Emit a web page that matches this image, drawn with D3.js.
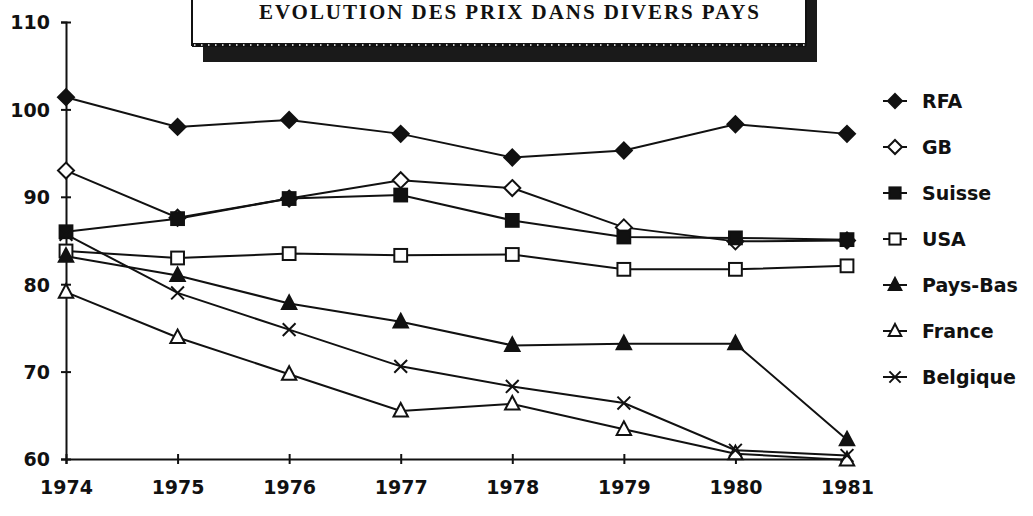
<!DOCTYPE html>
<html>
<head>
<meta charset="utf-8">
<script src="https://cdn.jsdelivr.net/npm/d3@7"></script>
<style>
body { margin: 0; background: #fff; }
svg { display: block; }
.tick-label { font-family: 'DejaVu Sans', sans-serif; font-weight: bold; font-size: 19px; fill: #111; }
.leg-label { font-family: 'DejaVu Sans', sans-serif; font-weight: bold; font-size: 19px; fill: #111; }
.title { font-family: 'Liberation Serif', serif; font-weight: bold; font-size: 21px; fill: #111; }
</style>
</head>
<body>
<div id="chart"></div>
<script>
// valeurs
var years = [1974, 1975, 1976, 1977, 1978, 1979, 1980, 1981];
var yTicks = [60, 70, 80, 90, 100, 110];
var countries = ['RFA', 'GB', 'Suisse', 'USA', 'Pays-Bas', 'France', 'Belgique'];

var rfa      = [101.4, 98.0, 98.8, 97.2, 94.5, 95.3, 98.3, 97.2];
var gb       = [93.0, 87.6, 89.8, 91.9, 91.0, 86.5, 84.9, 85.0];
var suisse   = [86.0, 87.5, 89.8, 90.2, 87.3, 85.4, 85.3, 85.1];
var usa      = [83.8, 83.0, 83.5, 83.3, 83.4, 81.7, 81.7, 82.1];
var paysBas  = [83.2, 81.0, 77.8, 75.7, 73.0, 73.2, 73.2, 62.2];
var france   = [79.1, 73.9, 69.7, 65.5, 66.3, 63.4, 60.6, 59.9];
var belgique = [85.7, 79.0, 74.8, 70.6, 68.3, 66.4, 61.0, 60.4];

var titre = 'EVOLUTION DES PRIX DANS DIVERS PAYS';

var series = [rfa, gb, suisse, usa, paysBas, france, belgique];
// marker type per country
var markers = ['diamond', 'diamondOpen', 'square', 'squareOpen', 'triangle', 'triangleOpen', 'cross'];

var width = 1033, height = 516;

var svg = d3
.select('#chart')
.append('svg')
.attr('width', width)
.attr('height', height)
;

var x = d3.scaleLinear().domain([1974, 1981]).range([66, 847]);
var y = d3.scaleLinear().domain([60, 110]).range([459, 22]);

// title box with shadow
svg.append('rect')
.attr('x', 203).attr('y', 46)
.attr('width', 614).attr('height', 16)
.attr('fill', '#1a1a1a')
;
svg.append('rect')
.attr('x', 807).attr('y', -2)
.attr('width', 10).attr('height', 64)
.attr('fill', '#1a1a1a')
;
svg.append('rect')
.attr('x', 192).attr('y', -4)
.attr('width', 614).attr('height', 49)
.attr('fill', '#fff')
.attr('stroke', '#111')
.attr('stroke-width', 2)
;
svg.append('line')
.attr('x1', 192).attr('x2', 806)
.attr('y1', 45).attr('y2', 45)
.attr('stroke', '#111')
.attr('stroke-width', 4)
;
svg.append('line')
.attr('x1', 194).attr('x2', 806)
.attr('y1', 45).attr('y2', 45)
.attr('stroke', '#fff')
.attr('stroke-width', 1.5)
.attr('stroke-dasharray', '1.5,5.5')
;
svg.append('text')
.attr('class', 'title')
.attr('x', 509)
.attr('y', 19)
.attr('text-anchor', 'middle')
.attr('textLength', 500)
.text(titre)
;

// axes
var yAxis = d3.axisLeft(y)
.tickValues(yTicks)
.tickSize(5)
.tickFormat(d3.format('d'))
;
var xAxis = d3.axisBottom(x)
.tickValues(years)
.tickSize(5)
.tickFormat(d3.format('d'))
;

var gy = svg.append('g')
.attr('transform', 'translate(' + x(1974) + ',0)')
.call(yAxis)
;
var gx = svg.append('g')
.attr('transform', 'translate(0,' + y(60) + ')')
.call(xAxis)
;

[gy, gx].forEach(function(g){
    g.select('.domain').attr('stroke', '#111').attr('stroke-width', 2);
    g.selectAll('.tick line').attr('stroke', '#111').attr('stroke-width', 2);
    g.selectAll('text').attr('class', 'tick-label').attr('font-size', null).attr('font-family', null).attr('fill', null);
});
// ticks cross the axis line
gy.selectAll('.tick line').attr('x1', 5).attr('x2', -5);
gy.selectAll('.tick text').attr('x', -16).attr('dy', '0.36em');
gx.selectAll('.tick line').attr('y1', -5).attr('y2', 5);
gx.selectAll('.tick text').attr('y', 22).attr('dy', '0.71em');

// lines
var line = d3.line()
.x(function(d, i){ return x(years[i]); })
.y(function(d){ return y(d); })
;

svg.selectAll('path.serie')
.data(series)
.enter()
.append('path')
.attr('class', 'serie')
.attr('d', line)
.attr('fill', 'none')
.attr('stroke', '#111')
.attr('stroke-width', 2)
;

function drawMarker(g, type, size){
    var s = size;
    if (type === 'diamond' || type === 'diamondOpen') {
        g.append('path')
        .attr('d', 'M0,' + (-s) + 'L' + s + ',0L0,' + s + 'L' + (-s) + ',0Z')
        .attr('fill', type === 'diamond' ? '#111' : '#fff')
        .attr('stroke', '#111')
        .attr('stroke-width', 2)
        ;
    } else if (type === 'square' || type === 'squareOpen') {
        g.append('rect')
        .attr('x', -s * 0.8).attr('y', -s * 0.8)
        .attr('width', s * 1.6).attr('height', s * 1.6)
        .attr('fill', type === 'square' ? '#111' : '#fff')
        .attr('stroke', '#111')
        .attr('stroke-width', 2)
        ;
    } else if (type === 'triangle' || type === 'triangleOpen') {
        g.append('path')
        .attr('d', 'M0,' + (-s) + 'L' + (s * 0.9) + ',' + (s * 0.7) + 'L' + (-s * 0.9) + ',' + (s * 0.7) + 'Z')
        .attr('fill', type === 'triangle' ? '#111' : '#fff')
        .attr('stroke', '#111')
        .attr('stroke-width', 2)
        ;
    } else if (type === 'cross') {
        g.append('path')
        .attr('d', 'M' + (-s * 0.8) + ',' + (-s * 0.8) + 'L' + (s * 0.8) + ',' + (s * 0.8) + 'M' + (s * 0.8) + ',' + (-s * 0.8) + 'L' + (-s * 0.8) + ',' + (s * 0.8))
        .attr('stroke', '#111')
        .attr('stroke-width', 2)
        ;
    }
}

// markers
series.forEach(function(vals, k){
    vals.forEach(function(v, i){
        var g = svg.append('g')
        .attr('transform', 'translate(' + x(years[i]) + ',' + y(v) + ')')
        ;
        drawMarker(g, markers[k], 8);
    });
});

// legend
var legend = svg
.selectAll('g.legend')
.data(countries)
.enter()
.append('g')
.attr('class', 'legend')
.attr('transform', function(d, i){ return 'translate(895,' + (101 + i * 46) + ')'; })
;

legend.append('line')
.attr('x1', -12).attr('x2', 12)
.attr('y1', 0).attr('y2', 0)
.attr('stroke', '#111')
.attr('stroke-width', 2)
;

legend.each(function(d, i){
    drawMarker(d3.select(this), markers[i], 7);
});

legend.append('text')
.attr('class', 'leg-label')
.attr('x', 27)
.attr('y', 0)
.attr('dy', '0.36em')
.text(function(d){ return d; })
;
</script>
</body>
</html>
